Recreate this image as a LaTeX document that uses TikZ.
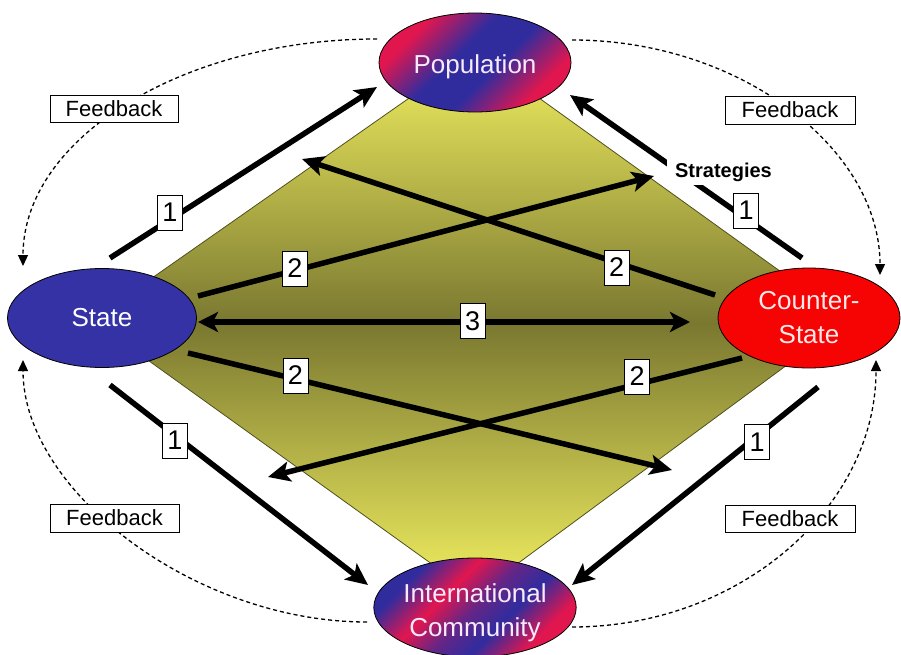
\documentclass[tikz,border=0pt]{standalone}
\usepackage{fontspec}
\setmainfont{Liberation Sans}
\usetikzlibrary{shapes.geometric,arrows.meta}
\definecolor{popred}{RGB}{226,22,78}
\definecolor{popblue}{RGB}{48,44,158}
\colorlet{mixa}{popred!70!popblue}
\colorlet{mixb}{popblue!70!popred}
\definecolor{stateblue}{RGB}{52,50,164}
\definecolor{csred}{RGB}{246,4,4}
\definecolor{dyellow}{RGB}{242,240,96}
\definecolor{dolive}{RGB}{122,120,48}
\definecolor{dedge}{RGB}{80,80,30}
\definecolor{lbl}{RGB}{248,234,250}
\definecolor{lblr}{RGB}{255,232,232}
\pgfdeclareverticalshading{popshade}{100bp}{color(0bp)=(popred); color(28bp)=(popred); color(44bp)=(popblue); color(56bp)=(popblue); color(72bp)=(popred); color(100bp)=(popred)}
\pgfdeclareverticalshading{intshade}{100bp}{color(0bp)=(popred); color(28bp)=(popred); color(40bp)=(popblue); color(50bp)=(mixb); color(60bp)=(popred); color(72bp)=(popblue); color(100bp)=(popblue)}
\begin{document}
\begin{tikzpicture}[x=1pt,y=-1pt,
  ell/.style={ellipse, draw=black, line width=0.8pt, minimum width=192pt, minimum height=99pt, inner sep=0pt, align=center, font=\fontsize{26}{34}\selectfont},
  fbbox/.style={draw=black, fill=white, line width=0.9pt, minimum width=128pt, minimum height=27pt, inner sep=0pt, font=\fontsize{22}{24}\selectfont},
  numbox/.style={draw=black, fill=white, line width=1pt, minimum width=25pt, minimum height=35pt, inner sep=0pt, font=\fontsize{27}{27}\selectfont},
  bigarrow/.style={line width=5.5pt, -{Stealth[length=22pt,width=20pt,inset=5pt]}},
  dblarrow/.style={line width=5.5pt, {Stealth[length=20pt,width=20pt,inset=5pt]}-{Stealth[length=20pt,width=20pt,inset=5pt]}},
  fbarc/.style={line width=1.3pt, dash pattern=on 4pt off 3pt, -{Triangle[length=11pt,width=10pt]}}
]
\useasboundingbox (0,0) rectangle (901,655);
\fill[white] (0,0) rectangle (901,655);

% diamond
\coordinate (dL) at (92,320);
\coordinate (dT) at (475,52);
\coordinate (dR) at (848,320);
\coordinate (dB) at (475,595);
\draw[draw=dedge, line width=0.8pt, top color=dyellow, bottom color=dyellow, middle color=dolive] (dL) -- (dT) -- (dR) -- (dB) -- cycle;

% main nodes
\node[ell, shading=popshade, shading angle=45, text=lbl] (pop) at (475,62.5) {\raisebox{-4pt}[\height][\depth]{Population}};
\node[ell, fill=stateblue, text=white, minimum width=189pt] (state) at (102,318) {State};
\node[ell, fill=csred, text=lblr, minimum width=182pt, minimum height=100pt] (cs) at (809,318) {Counter-\\State};
\node[ell, shading=intshade, shading angle=45, text=lbl] (intl) at (475,607.5) {\raisebox{-5pt}[\height][\depth]{\begin{tabular}{@{}c@{}}International\\Community\end{tabular}}};

% arrow end points
\coordinate (a1s) at (110,258);
\coordinate (a1e) at (377,87);
\coordinate (a2s) at (802,258);
\coordinate (a2e) at (570,95);
\coordinate (a3s) at (110,385);
\coordinate (a3e) at (368,585);
\coordinate (a4s) at (818,387);
\coordinate (a4e) at (572,585);
\coordinate (b1s) at (198,296);
\coordinate (b1e) at (654,176);
\coordinate (b2s) at (715,295);
\coordinate (b2e) at (302,159);
\coordinate (b3s) at (188,353);
\coordinate (b3e) at (672,470);
\coordinate (b4s) at (742,358);
\coordinate (b4e) at (268,477);
\coordinate (cL) at (198,322);
\coordinate (cR) at (690,322);

\draw[bigarrow] (a1s) -- (a1e);
\draw[bigarrow] (a2s) -- (a2e);
\draw[bigarrow] (a3s) -- (a3e);
\draw[bigarrow] (a4s) -- (a4e);
\draw[bigarrow] (b1s) -- (b1e);
\draw[bigarrow] (b2s) -- (b2e);
\draw[bigarrow] (b3s) -- (b3e);
\draw[bigarrow] (b4s) -- (b4e);
\draw[dblarrow] (cL) -- (cR);

% number labels
\node[numbox] (n1) at (170,212.5) {1};
\node[numbox] (n2) at (746,210.5) {1};
\node[numbox] (n3) at (175,440.5) {1};
\node[numbox] (n4) at (757,442) {1};
\node[numbox] (n5) at (295,268.5) {2};
\node[numbox] (n6) at (616.5,267.5) {2};
\node[numbox] (n7) at (295.5,375.5) {2};
\node[numbox] (n8) at (637,376.5) {2};
\node[numbox] (n9) at (472.5,321) {3};

\node[font=\bfseries\fontsize{20}{22}\selectfont, fill=white, inner xsep=8pt, inner ysep=4pt] (strat) at (723.5,172) {Strategies};

% feedback arcs
\coordinate (f1s) at (377,39);
\coordinate (f1e) at (23,266);
\coordinate (f2s) at (572,40);
\coordinate (f2e) at (880,275);
\coordinate (f3s) at (367,622);
\coordinate (f3e) at (23,360);
\coordinate (f4s) at (572,627);
\coordinate (f4e) at (876,360);
\draw[fbarc] (f1s) .. controls (182,39) and (23,139) .. (f1e);
\draw[fbarc] (f2s) .. controls (742,40) and (880,150) .. (f2e);
\draw[fbarc] (f3s) .. controls (195,622) and (23,491) .. (f3e);
\draw[fbarc] (f4s) .. controls (740,627) and (876,507) .. (f4e);

\node[fbbox] (fb1) at (114,108.5) {Feedback};
\node[fbbox, minimum width=130pt, minimum height=28pt] (fb2) at (790,110) {Feedback};
\node[fbbox, minimum width=129pt, minimum height=28pt] (fb3) at (114.5,518) {Feedback};
\node[fbbox, minimum width=130pt] (fb4) at (790,518.5) {Feedback};
\end{tikzpicture}
\end{document}
